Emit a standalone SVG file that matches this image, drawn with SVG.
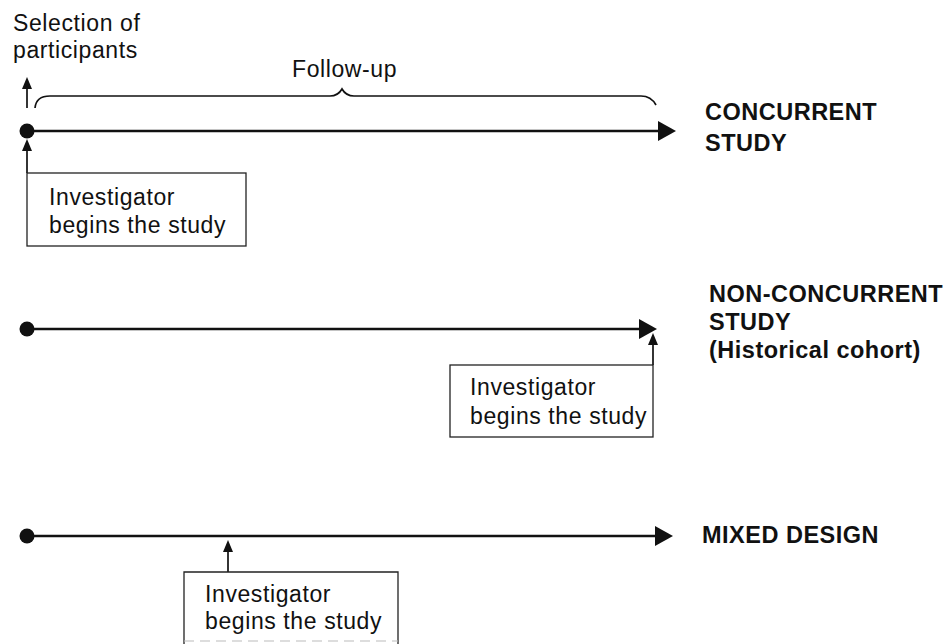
<svg xmlns="http://www.w3.org/2000/svg" width="943" height="644" viewBox="0 0 943 644">
<defs>
<style>
.t{font-family:"Liberation Sans",Arial,sans-serif;font-size:23px;letter-spacing:0.6px;fill:#111}
.b{font-family:"Liberation Sans",Arial,sans-serif;font-size:23.5px;font-weight:bold;letter-spacing:0.5px;fill:#111}
.ln{stroke:#111;stroke-width:2.5;fill:none}
.bx{stroke:#222;stroke-width:1.3;fill:none}
.up{stroke:#111;stroke-width:1.7;fill:none}
.hd{fill:#111}
</style>
</defs>
<rect width="943" height="644" fill="#fff"/>
<g id="connectors">
<line class="ln" x1="27" y1="131" x2="660" y2="131"/>
<polygon class="hd" points="676,131 658,121 658,141"/>
<line class="ln" x1="27" y1="329" x2="642" y2="329"/>
<polygon class="hd" points="657,329 639,319 639,339"/>
<line class="ln" x1="27" y1="536" x2="658" y2="536"/>
<polygon class="hd" points="673,536 655,526 655,546"/>
<line class="up" x1="27" y1="108" x2="27" y2="86"/>
<polygon class="hd" points="27,77 22,89 32,89"/>
<line class="up" x1="27" y1="173" x2="27" y2="148"/>
<polygon class="hd" points="27,139 22,151 32,151"/>
<line class="up" x1="653" y1="365" x2="653" y2="342"/>
<polygon class="hd" points="653,333 648,345 658,345"/>
<line class="up" x1="228" y1="572" x2="228" y2="549"/>
<polygon class="hd" points="228,540 223,552 233,552"/>
<path class="up" d="M35,108 Q36,96 50,96 L330,96 Q338,96 342,89 Q346,96 354,96 L641,96 Q651,96 656,105"/>
</g>
<g id="dot1"><circle cx="27" cy="131" r="7.5" fill="#111"/></g>
<g id="dot2"><circle cx="27" cy="329" r="7.5" fill="#111"/></g>
<g id="dot3"><circle cx="27" cy="536" r="7.5" fill="#111"/></g>
<g id="selection">
<text class="t" x="13" y="31">Selection of</text>
<text class="t" x="13" y="58">participants</text>
</g>
<g id="followup"><text class="t" x="292" y="77">Follow-up</text></g>
<g id="concurrent">
<text class="b" x="705" y="120">CONCURRENT</text>
<text class="b" x="705" y="151">STUDY</text>
</g>
<g id="nonconcurrent">
<text class="b" x="709" y="302">NON-CONCURRENT</text>
<text class="b" x="709" y="330">STUDY</text>
<text class="b" x="709" y="358">(Historical cohort)</text>
</g>
<g id="mixed"><text class="b" x="702" y="543">MIXED DESIGN</text></g>
<g id="box1">
<rect class="bx" x="27" y="173" width="219" height="73"/>
<text class="t" x="49" y="205">Investigator</text>
<text class="t" x="49" y="233">begins the study</text>
</g>
<g id="box2">
<rect class="bx" x="450" y="365" width="203" height="72"/>
<text class="t" x="470" y="395">Investigator</text>
<text class="t" x="470" y="424">begins the study</text>
</g>
<g id="box3">
<path class="bx" d="M184,644 L184,572 L398,572 L398,644"/>
<line x1="184" y1="641" x2="398" y2="641" stroke="#bbb" stroke-width="1" stroke-dasharray="10,6"/>
<text class="t" x="205" y="602">Investigator</text>
<text class="t" x="205" y="629">begins the study</text>
</g>
</svg>
